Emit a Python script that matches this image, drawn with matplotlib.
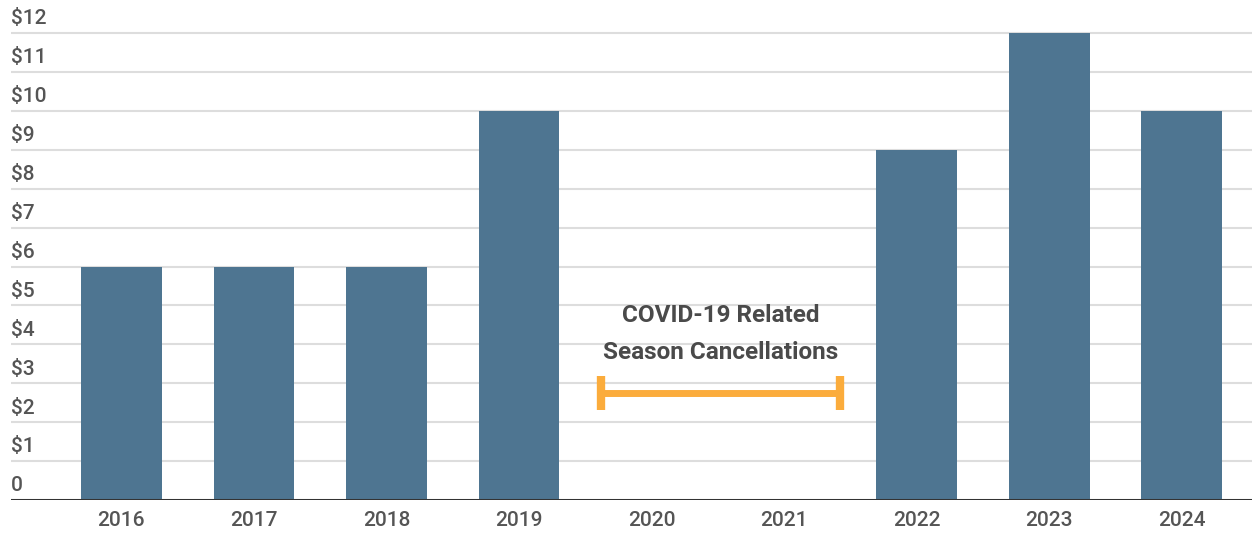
import numpy as np
import matplotlib.pyplot as plt
import matplotlib.transforms as mtransforms

plt.rcParams['font.family'] = ['Roboto', 'DejaVu Sans']

# Data
years = ['2016', '2017', '2018', '2019', '2020', '2021', '2022', '2023', '2024']
values = [6, 6, 6, 10, 0, 0, 9, 12, 10]
y_ticks = list(range(0, 13))
y_labels = ['0'] + [f'${v}' for v in range(1, 13)]
note_lines = ['COVID-19 Related', 'Season Cancellations']
note_span = (3.62, 5.42)   # bracket from between 2019/2020 to 2021/2022
note_level = 2.75

bar_color = '#4e7591'
grid_color = '#dddddd'
text_color = '#555555'
orange = '#fbac3c'

fig = plt.figure(figsize=(12.52, 5.33), dpi=100)
ax = fig.add_axes([11 / 1252, 33 / 533, 1 - 11 / 1252, 1 - 33 / 533])

x = np.arange(len(years))
ax.bar(x, values, width=0.61, color=bar_color, zorder=3)

ax.set_xlim(-0.833, 8.53)
ax.set_ylim(0, 12.85)

# gridlines and y labels sitting on top of lines
for t in y_ticks:
    if t > 0:
        ax.axhline(t, color=grid_color, lw=1.5, zorder=1)
trans = mtransforms.blended_transform_factory(ax.transAxes, ax.transData)
for t, lab in zip(y_ticks, y_labels):
    ax.text(0, t + 0.12, lab, transform=trans, ha='left', va='bottom',
            fontsize=15, fontweight='medium', color=text_color)

# baseline
ax.axhline(0, color='#333333', lw=2.2, zorder=4)

ax.set_yticks([])
ax.set_xticks(x)
ax.set_xticklabels(years, fontsize=15, fontweight='medium', color=text_color)
ax.tick_params(axis='x', length=0, pad=8)
for s in ax.spines.values():
    s.set_visible(False)

# COVID annotation bracket
x0, x1 = note_span
ax.plot([x0, x1], [note_level, note_level], color=orange, lw=5, solid_capstyle='butt', zorder=5)
for xe in (x0, x1):
    ax.plot([xe, xe], [note_level - 0.44, note_level + 0.44], color=orange, lw=6,
            solid_capstyle='butt', zorder=5)
xm = (x0 + x1) / 2
ax.text(xm, 4.73, note_lines[0], ha='center', va='center', fontsize=17.5,
        fontweight='bold', color='#4a4a4a')
ax.text(xm, 3.80, note_lines[1], ha='center', va='center', fontsize=17.5,
        fontweight='bold', color='#4a4a4a')

fig.savefig('out.png', dpi=100)
